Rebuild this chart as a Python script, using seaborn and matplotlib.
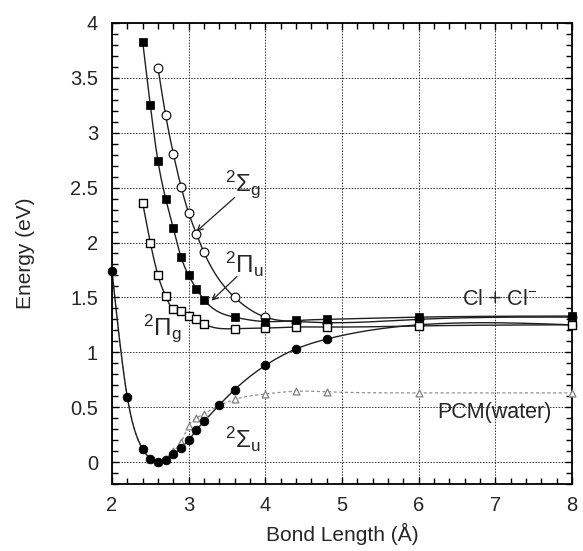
import numpy as np
import pandas as pd
import matplotlib
matplotlib.use('Agg')
import matplotlib.pyplot as plt
import seaborn as sns

# potential energy curves, Cl2-
sig_u_x = [2.0, 2.2, 2.4, 2.5, 2.6, 2.7, 2.8, 2.9, 3.0, 3.1, 3.2, 3.4, 3.6, 4.0, 4.4, 4.8, 6.0, 8.0]
sig_u_y = [1.74, 0.59, 0.12, 0.03, 0.00, 0.02, 0.07, 0.13, 0.20, 0.29, 0.37, 0.52, 0.66, 0.88, 1.03, 1.12, 1.25, 1.25]

pcm_x = [2.0, 2.2, 2.4, 2.5, 2.6, 2.7, 2.8, 2.9, 3.0, 3.1, 3.2, 3.6, 4.0, 4.4, 4.8, 6.0, 8.0]
pcm_y = [1.74, 0.59, 0.12, 0.03, 0.00, 0.03, 0.10, 0.18, 0.33, 0.40, 0.44, 0.57, 0.62, 0.645, 0.64, 0.63, 0.63]

pi_g_x = [2.4, 2.5, 2.6, 2.7, 2.8, 2.9, 3.0, 3.1, 3.2, 3.6, 4.0, 4.4, 4.8, 6.0, 8.0]
pi_g_y = [2.36, 2.00, 1.70, 1.51, 1.39, 1.375, 1.33, 1.30, 1.26, 1.215, 1.22, 1.23, 1.23, 1.24, 1.25]

pi_u_x = [2.4, 2.5, 2.6, 2.7, 2.8, 2.9, 3.0, 3.1, 3.2, 3.6, 4.0, 4.4, 4.8, 6.0, 8.0]
pi_u_y = [3.83, 3.25, 2.74, 2.40, 2.13, 1.87, 1.70, 1.58, 1.48, 1.32, 1.28, 1.29, 1.30, 1.32, 1.33]

sig_g_x = [2.6, 2.7, 2.8, 2.9, 3.0, 3.1, 3.2, 3.6, 4.0, 4.4, 4.8, 6.0, 8.0]
sig_g_y = [3.59, 3.16, 2.81, 2.51, 2.27, 2.08, 1.91, 1.50, 1.32, 1.28, 1.27, 1.30, 1.32]


def smooth(x, y, n=300):
    # natural cubic spline through the points, only for drawing the line
    x = np.asarray(x, float)
    y = np.asarray(y, float)
    h = np.diff(x)
    m = len(x)
    A = np.zeros((m, m))
    r = np.zeros(m)
    A[0, 0] = A[-1, -1] = 1
    for i in range(1, m - 1):
        A[i, i - 1] = h[i - 1]
        A[i, i] = 2 * (h[i - 1] + h[i])
        A[i, i + 1] = h[i]
        r[i] = 3 * ((y[i + 1] - y[i]) / h[i] - (y[i] - y[i - 1]) / h[i - 1])
    c = np.linalg.solve(A, r)
    xs = np.linspace(x[0], x[-1], n)
    idx = np.clip(np.searchsorted(x, xs) - 1, 0, m - 2)
    dx = xs - x[idx]
    b = (y[1:] - y[:-1]) / h - h * (2 * c[:-1] + c[1:]) / 3
    d = (c[1:] - c[:-1]) / (3 * h)
    ys = y[idx] + b[idx] * dx + c[idx] * dx ** 2 + d[idx] * dx ** 3
    return xs, ys


sns.set_style('ticks')
plt.rcParams['font.family'] = ['Liberation Sans', 'DejaVu Sans']
plt.rcParams['mathtext.fontset'] = 'custom'
plt.rcParams['mathtext.rm'] = 'Liberation Sans'
plt.rcParams['mathtext.it'] = 'Liberation Sans'
plt.rcParams['mathtext.bf'] = 'Liberation Sans:bold'

fig = plt.figure(figsize=(5.83, 5.51), dpi=100)
ax = fig.add_axes([0.1921, 0.1216, 0.789, 0.8367])

# lines
xs, ys = smooth(pcm_x, pcm_y)
sns.lineplot(x=xs, y=ys, ax=ax, color='#909090', lw=0.9, ls=(0, (2.5, 2)), sort=False, estimator=None)
for cx, cy in [(sig_u_x, sig_u_y), (pi_g_x, pi_g_y), (pi_u_x, pi_u_y), (sig_g_x, sig_g_y)]:
    xs, ys = smooth(cx, cy)
    sns.lineplot(x=xs, y=ys, ax=ax, color='#202020', lw=1.0, sort=False, estimator=None)

# markers
sns.scatterplot(x=pcm_x, y=pcm_y, ax=ax, marker='^', s=24, color='white', edgecolor='#808080', linewidth=0.9, zorder=3, clip_on=False)
sns.scatterplot(x=sig_u_x, y=sig_u_y, ax=ax, marker='o', s=40, color='black', edgecolor='black', linewidth=0.5, zorder=4, clip_on=False)
sns.scatterplot(x=sig_g_x, y=sig_g_y, ax=ax, marker='o', s=40, color='white', edgecolor='black', linewidth=0.8, zorder=4, clip_on=False)
sns.scatterplot(x=pi_g_x, y=pi_g_y, ax=ax, marker='s', s=40, color='white', edgecolor='black', linewidth=1.0, zorder=5, clip_on=False)
sns.scatterplot(x=pi_u_x, y=pi_u_y, ax=ax, marker='s', s=40, color='black', edgecolor='black', linewidth=0.5, zorder=6, clip_on=False)

ax.set_xlim(2, 8)
ax.set_ylim(-0.2, 4)
ax.set_xticks(np.arange(2, 8.1, 1))
ax.set_yticks(np.arange(0, 4.01, 0.5))
ax.set_yticklabels(['0', '0.5', '1', '1.5', '2', '2.5', '3', '3.5', '4'])
ax.set_xticks(np.arange(2, 8.01, 0.2), minor=True)
ax.set_yticks(np.arange(-0.2, 4.01, 0.1), minor=True)
ax.tick_params(which='both', direction='in', top=True, right=True, width=1, color='black')
ax.tick_params(which='major', length=5, labelsize=14.5)
ax.tick_params(axis='x', which='major', pad=9)
ax.tick_params(axis='y', which='major', pad=10)
ax.tick_params(which='minor', length=4)
ax.grid(True, which='major', color='#333333', ls=(0, (1.5, 1.5)), lw=0.7)
for sp in ax.spines.values():
    sp.set_linewidth(1.3)
    sp.set_color('black')

ax.set_xlabel('Bond Length (Å)', fontsize=15, labelpad=5)
ax.set_ylabel('Energy (eV)', fontsize=15, labelpad=25)

# state labels
ax.text(3.47, 2.53, r'$^{2}\Sigma_{g}$', fontsize=17.5, va='center', ha='left')
ax.text(3.47, 1.80, r'$^{2}\Pi_{u}$', fontsize=17.5, va='center', ha='left')
ax.text(2.40, 1.22, r'$^{2}\Pi_{g}$', fontsize=17.5, va='center', ha='left')
ax.text(3.47, 0.21, r'$^{2}\Sigma_{u}$', fontsize=17.5, va='center', ha='left')
ax.text(7.06, 1.48, r'Cl + Cl$^{-}$', fontsize=15.5, va='center', ha='center')
ax.text(6.24, 0.455, 'PCM(water)', fontsize=15.5, va='center', ha='left')

ax.annotate('', xy=(3.10, 2.10), xytext=(3.60, 2.41),
            arrowprops=dict(arrowstyle='->', color='#202020', lw=0.9, shrinkA=0, shrinkB=0))
ax.annotate('', xy=(3.30, 1.47), xytext=(3.63, 1.69),
            arrowprops=dict(arrowstyle='->', color='#202020', lw=0.9, shrinkA=0, shrinkB=0))

fig.savefig('out.png', dpi=100)
